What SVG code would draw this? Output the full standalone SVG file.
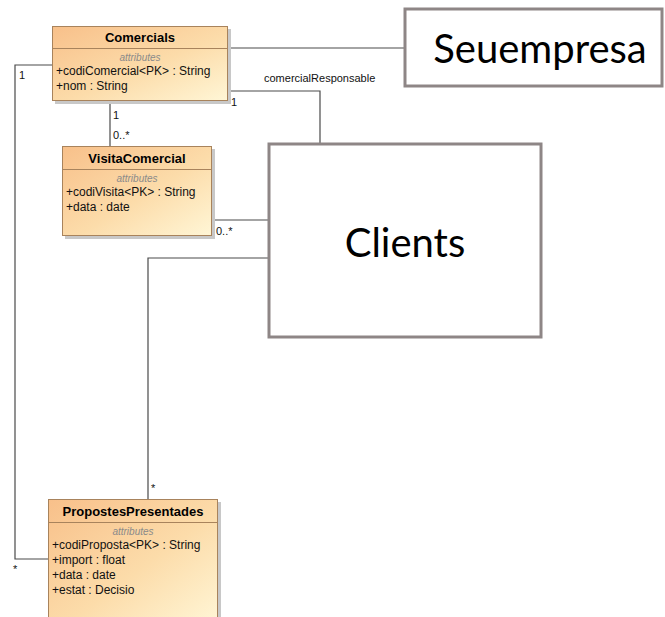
<svg xmlns="http://www.w3.org/2000/svg" width="665" height="617" viewBox="0 0 665 617">
  <defs>
    <linearGradient id="classFill" x1="0" y1="0" x2="1" y2="1">
      <stop offset="0" stop-color="#f8c08a"/>
      <stop offset="0.55" stop-color="#fcdcaa"/>
      <stop offset="1" stop-color="#fff6d6"/>
    </linearGradient>
    <style>
      .cls { fill: url(#classFill); stroke: #a8835c; stroke-width: 1; }
      .shadow { fill: #c8c8c8; }
      .sep { stroke: #a8835c; stroke-width: 1; }
      .title { font-family: "Liberation Sans", Arial, sans-serif; font-size: 13px; font-weight: bold; fill: #000; }
      .stereo { font-family: "Liberation Sans", Arial, sans-serif; font-size: 10px; font-style: italic; fill: #8a8a8a; }
      .attr { font-family: "Liberation Sans", Arial, sans-serif; font-size: 12px; fill: #111; }
      .lbl { font-family: "Liberation Sans", Arial, sans-serif; font-size: 11px; fill: #111; }
      .conn { fill: none; stroke: #4a4a4a; stroke-width: 1.2; }
      .big { fill: #fff; stroke: #8e8686; stroke-width: 3; }
      .bigtxt { font-family: "Lato", "Open Sans", sans-serif; font-size: 40px; fill: #000; }
    </style>
  </defs>

  <!-- associations -->
  <g id="connectors">
    <path class="conn" d="M228 48 H404"/>
    <path class="conn" d="M228 91 H320 V143"/>
    <path class="conn" d="M110 101 V146"/>
    <path class="conn" d="M212 220 H268"/>
    <path class="conn" d="M268 258 H148 V499"/>
    <path class="conn" d="M52 65 H15 V559 H48"/>
    <text class="lbl" x="264" y="82">comercialResponsable</text>
    <text class="lbl" x="231" y="106">1</text>
    <text class="lbl" x="113" y="119">1</text>
    <text class="lbl" x="113" y="139">0..*</text>
    <text class="lbl" x="216" y="235">0..*</text>
    <text class="lbl" x="151" y="492">*</text>
    <text class="lbl" x="19" y="79">1</text>
    <text class="lbl" x="13" y="573">*</text>
  </g>

  <g id="Comercials">
    <rect class="shadow" x="55" y="29" width="176" height="75"/>
    <rect class="cls" x="52.5" y="26.5" width="175" height="74"/>
    <line class="sep" x1="52.5" y1="48.5" x2="227.5" y2="48.5"/>
    <text class="title" x="140" y="42" text-anchor="middle">Comercials</text>
    <text class="stereo" x="140" y="61" text-anchor="middle">attributes</text>
    <text class="attr" x="56" y="75">+codiComercial&lt;PK&gt; : String</text>
    <text class="attr" x="56" y="90">+nom : String</text>
  </g>

  <g id="VisitaComercial">
    <rect class="shadow" x="65" y="149" width="150" height="90"/>
    <rect class="cls" x="62.5" y="146.5" width="149" height="89"/>
    <line class="sep" x1="62.5" y1="169.5" x2="211.5" y2="169.5"/>
    <text class="title" x="137" y="163" text-anchor="middle">VisitaComercial</text>
    <text class="stereo" x="137" y="182" text-anchor="middle">attributes</text>
    <text class="attr" x="66" y="196">+codiVisita&lt;PK&gt; : String</text>
    <text class="attr" x="66" y="211">+data : date</text>
  </g>

  <g id="PropostesPresentades">
    <rect class="shadow" x="51" y="502" width="170" height="120"/>
    <rect class="cls" x="48.5" y="499.5" width="169" height="125"/>
    <line class="sep" x1="48.5" y1="522.5" x2="217.5" y2="522.5"/>
    <text class="title" x="133" y="516" text-anchor="middle">PropostesPresentades</text>
    <text class="stereo" x="133" y="535" text-anchor="middle">attributes</text>
    <text class="attr" x="52" y="549">+codiProposta&lt;PK&gt; : String</text>
    <text class="attr" x="52" y="564">+import : float</text>
    <text class="attr" x="52" y="579">+data : date</text>
    <text class="attr" x="52" y="594">+estat : Decisio</text>
  </g>

  <g id="Seuempresa">
    <rect class="big" x="405" y="9" width="257" height="77"/>
    <text class="bigtxt" x="540" y="63" text-anchor="middle">Seuempresa</text>
  </g>

  <g id="Clients">
    <rect class="big" x="269" y="144" width="272" height="193"/>
    <text class="bigtxt" x="405" y="257" text-anchor="middle">Clients</text>
  </g>
</svg>
